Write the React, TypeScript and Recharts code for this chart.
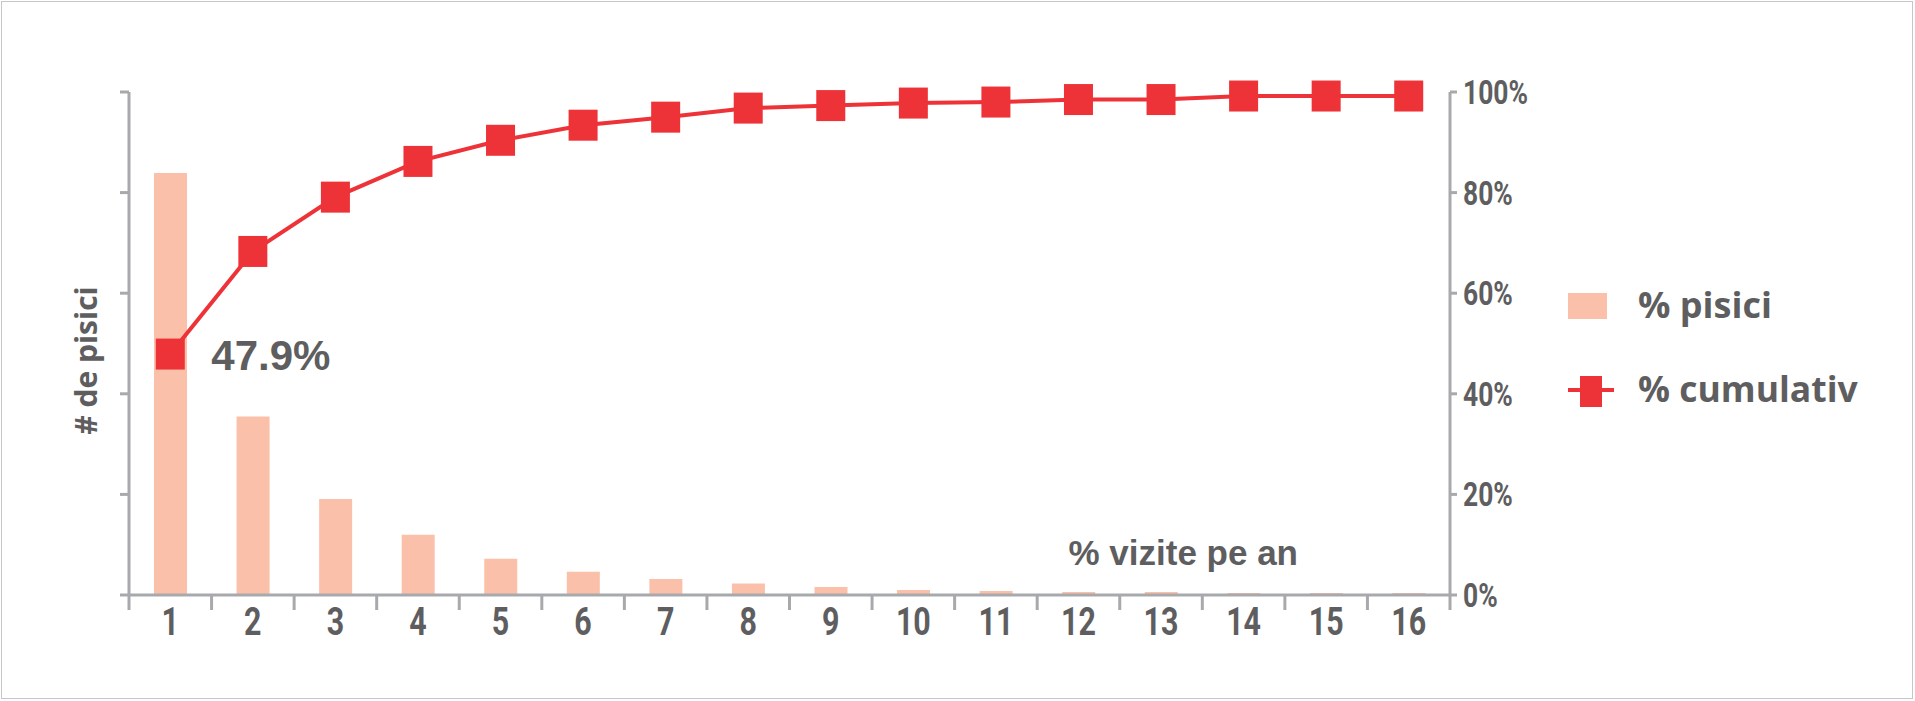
import React from 'react';
import {
  ComposedChart,
  Bar,
  Line,
  XAxis,
  YAxis,
  Legend,
  Label,
  LabelList,
} from 'recharts';

// ---- data ----
const categories = [1, 2, 3, 4, 5, 6, 7, 8, 9, 10, 11, 12, 13, 14, 15, 16];
const pisici = [83.9, 35.5, 19.1, 12.0, 7.2, 4.6, 3.2, 2.3, 1.6, 1.0, 0.8, 0.6, 0.6, 0.4, 0.4, 0.4];
const cumulativ = [47.9, 68.3, 79.1, 86.2, 90.4, 93.4, 95.0, 96.8, 97.3, 97.8, 98.0, 98.5, 98.5, 99.2, 99.2, 99.2];
const leftTicks = [0, 20, 40, 60, 80, 100];
const rightTicks = [0, 20, 40, 60, 80, 100];
const seriesNames = { bar: '% pisici', line: '% cumulativ' };
const xTitle = '% vizite pe an';
const yTitle = '# de pisici';

const data = categories.map((c, i) => ({ x: c, pisici: pisici[i], cumulativ: cumulativ[i] }));
const boundaryTicks = [...categories.map((c) => c - 0.5), categories[categories.length - 1] + 0.5];
const xDomain = [boundaryTicks[0], boundaryTicks[boundaryTicks.length - 1]];

// ---- styles ----
const BAR_COLOR = '#FBC0A9';
const LINE_COLOR = '#EE3338';
const AXIS_COLOR = '#A8A9AD';
const TEXT_COLOR = '#5E5E60';
const CONDENSED = "Roboto, 'Liberation Sans', sans-serif";
const SANS = "'Liberation Sans', Arial, sans-serif";
const ROUND = "'Open Sans', 'Noto Sans', sans-serif";

const EmptyTick = () => <g />;

const XTick = (props: any) => {
  const { x, y, payload } = props;
  return (
    <g transform={`translate(${x},${y})`}>
      <text
        x={0}
        y={26}
        transform="scale(0.8,1)"
        textAnchor="middle"
        fontFamily={CONDENSED}
        fontWeight={700}
        fontSize={38}
        fill={TEXT_COLOR}
      >
        {payload.value}
      </text>
    </g>
  );
};

const YRightTick = (props: any) => {
  const { x, y, payload } = props;
  return (
    <g transform={`translate(${x},${y})`}>
      <text
        x={0}
        y={12}
        transform="scale(0.8,1)"
        textAnchor="start"
        fontFamily={CONDENSED}
        fontWeight={700}
        fontSize={33}
        fill={TEXT_COLOR}
      >
        {`${payload.value}%`}
      </text>
    </g>
  );
};

const SquareDot = (props: any) => {
  const { cx, cy, index } = props;
  if (cx == null || cy == null) return <g key={`d${index}`} />;
  return <rect key={`d${index}`} x={cx - 14.5} y={cy - 15.5} width={29} height={31} fill={LINE_COLOR} />;
};

const renderLegend = (props: any) => {
  const payload = props.payload || [];
  const barItem = payload.find((p: any) => p.dataKey === 'pisici');
  const lineItem = payload.find((p: any) => p.dataKey === 'cumulativ');
  return (
    <svg width={340} height={140} style={{ display: 'block' }}>
      <rect x={8} y={13} width={39} height={26} fill={BAR_COLOR} />
      <text x={78} y={38} fontFamily={ROUND} fontWeight={700} fontSize={36} fill={TEXT_COLOR}>
        {barItem ? barItem.value : seriesNames.bar}
      </text>
      <line x1={8} x2={54} y1={110} y2={110} stroke={LINE_COLOR} strokeWidth={4} />
      <rect x={20} y={96} width={22} height={31} fill={LINE_COLOR} />
      <text x={78} y={122} fontFamily={ROUND} fontWeight={700} fontSize={35.5} fill={TEXT_COLOR}>
        {lineItem ? lineItem.value : seriesNames.line}
      </text>
    </svg>
  );
};

export default function App() {
  return (
    <div style={{ position: 'absolute', left: 0, top: 0, width: 1915, height: 701, background: '#fff' }}>
      <div
        style={{
          position: 'absolute',
          left: 1,
          top: 1,
          width: 1912,
          height: 698,
          border: '1.5px solid #C6C6C6',
          boxSizing: 'border-box',
        }}
      />
      <ComposedChart
        width={1915}
        height={701}
        data={data}
        margin={{ top: 92, right: 365, bottom: 45, left: 69 }}
        style={{ position: 'absolute', left: 0, top: 0 }}
      >
        <XAxis
          xAxisId="b"
          dataKey="x"
          type="number"
          domain={xDomain}
          ticks={boundaryTicks}
          tick={EmptyTick}
          tickSize={15}
          tickLine={{ stroke: AXIS_COLOR, strokeWidth: 3 }}
          axisLine={{ stroke: AXIS_COLOR, strokeWidth: 3 }}
          height={1}
          interval={0}
          allowDataOverflow
        />
        <XAxis
          xAxisId="l"
          dataKey="x"
          type="number"
          domain={xDomain}
          ticks={categories}
          tickSize={0}
          tickMargin={13}
          tickLine={false}
          axisLine={false}
          height={60}
          interval={0}
          allowDataOverflow
          tick={XTick}
        >
          <Label
            content={(p: any) => {
              const vb = p.viewBox || {};
              return (
                <text
                  x={vb.x + vb.width - 152}
                  y={vb.y - 31}
                  textAnchor="end"
                  fontFamily={SANS}
                  fontWeight={700}
                  fontSize={35}
                  fill={TEXT_COLOR}
                >
                  {xTitle}
                </text>
              );
            }}
          />
        </XAxis>
        <YAxis
          yAxisId="left"
          domain={[0, 100]}
          ticks={leftTicks}
          tick={EmptyTick}
          tickSize={9}
          tickLine={{ stroke: AXIS_COLOR, strokeWidth: 3 }}
          axisLine={{ stroke: AXIS_COLOR, strokeWidth: 3 }}
          width={60}
          interval={0}
        >
          <Label
            content={(p: any) => {
              const vb = p.viewBox || {};
              const cx = vb.x + 28;
              const cy = vb.y + vb.height / 2 + 17;
              return (
                <text
                  x={cx}
                  y={cy}
                  transform={`rotate(-90 ${cx} ${cy})`}
                  textAnchor="middle"
                  fontFamily={ROUND}
                  fontWeight={700}
                  fontSize={30}
                  fill={TEXT_COLOR}
                >
                  {yTitle}
                </text>
              );
            }}
          />
        </YAxis>
        <YAxis
          yAxisId="right"
          orientation="right"
          domain={[0, 100]}
          ticks={rightTicks}
          tickSize={7}
          tickMargin={6}
          tickLine={{ stroke: AXIS_COLOR, strokeWidth: 3 }}
          axisLine={{ stroke: AXIS_COLOR, strokeWidth: 3 }}
          width={100}
          interval={0}
          tick={YRightTick}
        />
        <Bar
          xAxisId="b"
          yAxisId="left"
          dataKey="pisici"
          name={seriesNames.bar}
          fill={BAR_COLOR}
          barSize={33}
          isAnimationActive={false}
        />
        <Line
          xAxisId="b"
          yAxisId="right"
          dataKey="cumulativ"
          name={seriesNames.line}
          stroke={LINE_COLOR}
          strokeWidth={4}
          dot={SquareDot}
          activeDot={false}
          isAnimationActive={false}
        >
          <LabelList
            dataKey="cumulativ"
            content={(p: any) => {
              if (p.index !== 0) return null;
              return (
                <text
                  x={p.x + 41}
                  y={p.y + 16}
                  fontFamily={SANS}
                  fontWeight={700}
                  fontSize={42}
                  fill={TEXT_COLOR}
                >
                  {`${p.value}%`}
                </text>
              );
            }}
          />
        </Line>
        <Legend
          layout="vertical"
          align="center"
          verticalAlign="middle"
          content={renderLegend}
          wrapperStyle={{ left: 1560, top: 280, width: 340, height: 140 }}
        />
      </ComposedChart>
    </div>
  );
}
